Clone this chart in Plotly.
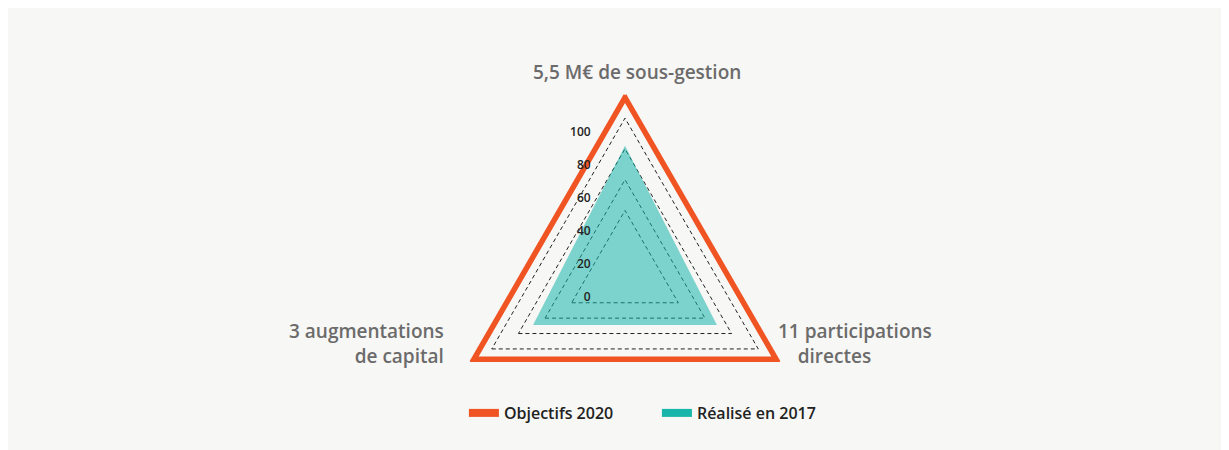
import plotly.graph_objects as go

categories = ["5,5 M€ de sous-gestion", "11 participations directes", "3 augmentations de capital"]
objectifs_2020 = [115, 115, 115]
realise_2017 = [82, 69, 69]
tick_values = [0, 20, 40, 60, 80, 100]
tick_labels = ["0", "20", "40", "60", "80", "100"]
grid_values = [40, 60, 80, 100]

ORANGE = "#f05423"
TEAL = "#17b5aa"
BG = "#f7f7f5"
FONT = "Open Sans"

def closed(v):
    return list(v) + [v[0]]

fig = go.Figure()

fig.add_trace(go.Scatterpolar(
    r=closed(realise_2017), theta=closed(categories),
    fill="toself", fillcolor="rgba(23,181,170,0.55)",
    line=dict(color="rgba(0,0,0,0)", width=0),
    mode="lines", showlegend=False, hoverinfo="skip", subplot="polar"))

fig.add_trace(go.Scatterpolar(
    r=closed(objectifs_2020), theta=closed(categories),
    line=dict(color=ORANGE, width=8), mode="lines", cliponaxis=False,
    showlegend=False, subplot="polar"))

# legend entries
fig.add_trace(go.Scatterpolar(r=[None], theta=[categories[0]], mode="lines",
                              line=dict(color=ORANGE, width=8), name="Objectifs 2020", subplot="polar"))
fig.add_trace(go.Scatterpolar(r=[None], theta=[categories[0]], mode="lines",
                              line=dict(color=TEAL, width=8), name="Réalisé en 2017", subplot="polar"))

# second polar (upper half) only for radial tick labels
fig.add_trace(go.Scatterpolar(r=[None], theta=[90], mode="lines",
                              showlegend=False, subplot="polar2"))

W, H = 1229, 450
cx, cy = 617, 264
rmax = 117
R = 180
dom_x = [max(0, (cx - R) / W), min(1, (cx + R) / W)]
dom_y = [max(0, (H - cy - R) / H), min(1, (H - cy + R) / H)]

cx2, cy2, R2 = 585, 289, 165
dom2_x = [(cx2 - R2) / W, (cx2 + R2) / W]
dom2_y = [(H - cy2) / H, (H - cy2 + R2) / H]

fig.update_layout(
    width=W, height=H,
    paper_bgcolor=BG, plot_bgcolor=BG,
    margin=dict(l=0, r=0, t=0, b=0),
    font=dict(family=FONT, color="#333333"),
    polar=dict(
        domain=dict(x=dom_x, y=dom_y),
        bgcolor="rgba(0,0,0,0)",
        gridshape="linear",
        radialaxis=dict(range=[0, rmax], tickvals=grid_values, showticklabels=False,
                        showline=False, ticks="", gridcolor="#222222", griddash="4px,3px",
                        gridwidth=1, angle=90),
        angularaxis=dict(categoryarray=categories, categoryorder="array",
                         direction="clockwise", rotation=90, showline=False,
                         showgrid=False, showticklabels=False, ticks=""),
    ),
    polar2=dict(
        domain=dict(x=dom2_x, y=dom2_y),
        sector=[0, 180],
        bgcolor="rgba(0,0,0,0)",
        radialaxis=dict(range=[0, 100], tickvals=tick_values, ticktext=tick_labels,
                        showgrid=False, showline=False, ticks="", angle=90, tickangle=90,
                        side="counterclockwise",
                        tickfont=dict(size=12, color="#222222", family=FONT, weight=600)),
        angularaxis=dict(showline=False, showgrid=False, showticklabels=False, ticks=""),
    ),
    legend=dict(orientation="h", x=0.528, xanchor="center", y=0.1, yanchor="middle",
                entrywidth=148, entrywidthmode="pixels",
                font=dict(size=16, color="#222222", family=FONT, weight=600),
                bgcolor="rgba(0,0,0,0)"),
)

label_font = dict(size=19, color="#6b6b6b", family=FONT, weight=600)
fig.add_annotation(text=categories[0], x=629 / W, y=(H - 64) / H, xref="paper", yref="paper",
                   xanchor="center", yanchor="middle", showarrow=False, font=label_font)
fig.add_annotation(text=categories[2].replace(" de ", "<br>de ", 1), x=438 / W, y=(H - 336) / H,
                   xref="paper", yref="paper", xanchor="right", yanchor="middle", align="right",
                   showarrow=False, font=label_font)
fig.add_annotation(text=categories[1].replace(" directes", "<br>\u00a0\u00a0\u00a0\u00a0directes"),
                   x=768 / W, y=(H - 336) / H, xref="paper", yref="paper",
                   xanchor="left", yanchor="middle", align="left",
                   showarrow=False, font=label_font)

fig.write_html("out.html")
